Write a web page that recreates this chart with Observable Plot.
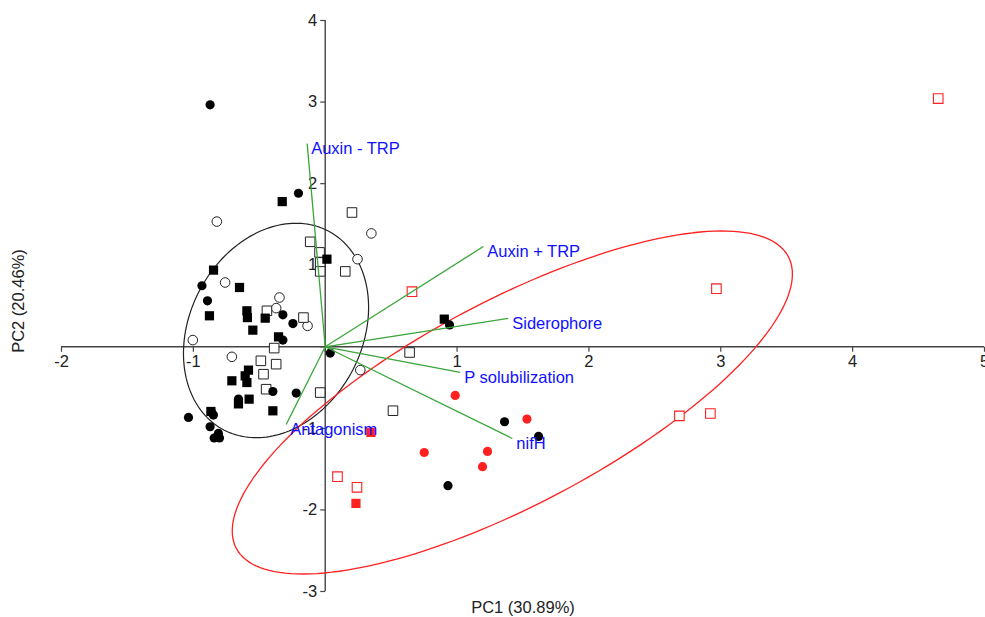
<!DOCTYPE html>
<html>
<head>
<meta charset="utf-8">
<script src="https://cdn.jsdelivr.net/npm/d3@7"></script>
<script src="https://cdn.jsdelivr.net/npm/@observablehq/plot@0.6"></script>
<style>
  html, body { margin: 0; padding: 0; background: #fff; }
  #chart svg { display: block; }
</style>
</head>
<body>
<div id="chart"></div>
<script>
// ---- Tick values ----
const xTicks = [-2, -1, 0, 1, 2, 3, 4, 5];
const yTicks = [-3, -2, -1, 0, 1, 2, 3, 4];
const xLabel = "PC1 (30.89%)";
const yLabel = "PC2 (20.46%)";

// ---- Loading vectors (end points) ----
const loadNames = ["Auxin - TRP", "Auxin + TRP", "Siderophore", "P solubilization", "nifH", "Antagonism"];
const loadX = [-0.137, 1.199, 1.388, 1.024, 1.419, -0.296];
const loadY = [2.49, 1.229, 0.347, -0.315, -1.124, -0.952];

// ---- Scores by group ----
const blackFilledCircle = [
  [-0.203, 1.882], [-0.873, 2.966], [-0.935, 0.748], [-0.893, 0.564], [-0.321, 0.392],
  [-0.245, 0.285], [-0.321, 0.082], [0.038, -0.077], [-0.397, -0.548], [-0.220, -0.567],
  [-0.658, -0.640], [-0.848, -0.837], [-1.037, -0.866], [-0.873, -0.980], [-0.810, -1.062],
  [-0.842, -1.118], [-0.802, -1.118], [-0.860, -0.810], [0.943, 0.268], [1.360, -0.919],
  [1.618, -1.099], [0.931, -1.703]
];
const blackFilledSquare = [
  [-0.326, 1.780], [0.013, 1.074], [-0.847, 0.940], [-0.650, 0.727], [-0.878, 0.380],
  [-0.594, 0.441], [-0.590, 0.358], [-0.455, 0.351], [-0.549, 0.204], [-0.354, 0.122],
  [-0.582, -0.286], [-0.607, -0.356], [-0.594, -0.438], [-0.708, -0.417], [-0.577, -0.642],
  [-0.658, -0.700], [-0.397, -0.785], [-0.867, -0.793], [0.903, 0.339]
];
const blackOpenCircle = [
  [-0.822, 1.535], [0.350, 1.390], [0.245, 1.074], [-0.759, 0.788], [-0.347, 0.604],
  [-0.372, 0.474], [-0.134, 0.257], [-1.004, 0.082], [-0.708, -0.123], [0.266, -0.286]
];
const blackOpenSquare = [
  [0.203, 1.646], [-0.114, 1.287], [-0.043, 1.157], [-0.038, 1.034], [-0.038, 0.924],
  [0.152, 0.924], [-0.442, 0.441], [-0.165, 0.358], [-0.387, -0.016], [-0.488, -0.172],
  [-0.372, -0.213], [-0.468, -0.336], [-0.448, -0.520], [-0.038, -0.561], [0.640, -0.070],
  [0.514, -0.784]
];
const redFilledCircle = [
  [0.986, -0.596], [1.530, -0.886], [0.751, -1.296], [1.231, -1.283], [1.193, -1.470]
];
const redFilledSquare = [
  [0.347, -1.049], [0.233, -1.920]
];
const redOpenSquare = [
  [0.658, 0.676], [0.093, -1.592], [0.241, -1.723], [4.649, 3.043], [2.967, 0.712],
  [2.686, -0.847], [2.921, -0.818]
];

// ---- Confidence ellipses: centre and two conjugate semi-axis vectors ----
const blackEllipse = { cx: -0.373, cy: 0.20, ux: 0.702, uy: 0.282, vx: 0, vy: 1.284 };
const redEllipse = { cx: 1.419, cy: -0.683, ux: 2.093, uy: 1.789, vx: -0.362, vy: 1.105 };

function ellipsePoints(e) {
  return d3.range(0, 361, 2).map(a => {
    const t = a * Math.PI / 180;
    return [e.cx + e.ux * Math.cos(t) + e.vx * Math.sin(t),
            e.cy + e.uy * Math.cos(t) + e.vy * Math.sin(t)];
  });
}

const loadings = loadNames.map((n, i) => ({ name: n, x: loadX[i], y: loadY[i] }));

const tickDown = { draw(ctx) { ctx.moveTo(0, 0); ctx.lineTo(0, 5); } };
const tickLeft = { draw(ctx) { ctx.moveTo(0, 0); ctx.lineTo(-5, 0); } };

const font = "'Liberation Sans', Arial, sans-serif";
const fs = 16.5;
const axisColor = "#444";
const red = "#ff2020";
const green = "#3aa53a";

const xLab = xTicks.filter(d => d !== 0);
const yLab = yTicks.filter(d => d !== 0);

const chart = Plot.plot({
  width: 985,
  height: 617,
  marginLeft: 61,
  marginRight: 1,
  marginTop: 20,
  marginBottom: 26,
  style: { fontFamily: font, fontSize: fs + "px", background: "#fff", overflow: "visible" },
  x: { domain: [xTicks[0], xTicks[xTicks.length - 1]], axis: null },
  y: { domain: [yTicks[0], yTicks[yTicks.length - 1]], axis: null },
  marks: [
    // axes through the origin
    Plot.ruleY([0], { x1: xTicks[0], x2: xTicks[xTicks.length - 1], stroke: axisColor, strokeWidth: 1.4 }),
    Plot.ruleX([0], { y1: yTicks[0], y2: yTicks[yTicks.length - 1], stroke: axisColor, strokeWidth: 1.4 }),
    Plot.dot(xTicks, { x: d => d, y: () => 0, symbol: tickDown, stroke: axisColor, fill: "none", strokeWidth: 1.2 }),
    Plot.dot(yTicks, { x: () => 0, y: d => d, symbol: tickLeft, stroke: axisColor, fill: "none", strokeWidth: 1.2 }),
    Plot.text(xLab, { x: d => d, y: () => 0, text: d => String(d), dy: 15, fill: "#222", fontSize: fs }),
    Plot.text(yLab, { x: () => 0, y: d => d, text: d => String(d), dx: -8, textAnchor: "end", fill: "#222", fontSize: fs }),
    Plot.text([xLabel], { frameAnchor: "bottom", lineAnchor: "middle", dy: 16, fill: "#222", fontSize: fs }),
    Plot.text([yLabel], { frameAnchor: "left", textAnchor: "middle", lineAnchor: "middle", dx: -43, dy: -5, rotate: -90, fill: "#222", fontSize: fs }),

    // ellipses
    Plot.line(ellipsePoints(blackEllipse), { x: d => d[0], y: d => d[1], stroke: "#222", strokeWidth: 1.2 }),
    Plot.line(ellipsePoints(redEllipse), { x: d => d[0], y: d => d[1], stroke: red, strokeWidth: 1.3 }),

    // scores
    Plot.dot(blackOpenCircle, { x: d => d[0], y: d => d[1], r: 4.8, stroke: "#222", strokeWidth: 1, fill: "white" }),
    Plot.dot(blackOpenSquare, { x: d => d[0], y: d => d[1], r: 5.4, symbol: "square", stroke: "#222", strokeWidth: 1, fill: "white" }),
    Plot.dot(blackFilledSquare, { x: d => d[0], y: d => d[1], r: 5.2, symbol: "square", fill: "#000", stroke: "none" }),
    Plot.dot(blackFilledCircle, { x: d => d[0], y: d => d[1], r: 4.6, fill: "#000", stroke: "none" }),
    Plot.dot(redOpenSquare, { x: d => d[0], y: d => d[1], r: 5.4, symbol: "square", stroke: red, strokeWidth: 1.1, fill: "white" }),
    Plot.dot(redFilledSquare, { x: d => d[0], y: d => d[1], r: 5.2, symbol: "square", fill: red, stroke: "none" }),
    Plot.dot(redFilledCircle, { x: d => d[0], y: d => d[1], r: 4.6, fill: red, stroke: "none" }),

    // loading vectors
    Plot.link(loadings, { x1: () => 0, y1: () => 0, x2: "x", y2: "y", stroke: green, strokeWidth: 1.3 }),
    Plot.text(loadings, { x: "x", y: "y", text: "name", textAnchor: "start", dx: 4, dy: 5, fill: "#1010ff", fontSize: fs })
  ]
});

document.getElementById("chart").appendChild(chart);
</script>
</body>
</html>
